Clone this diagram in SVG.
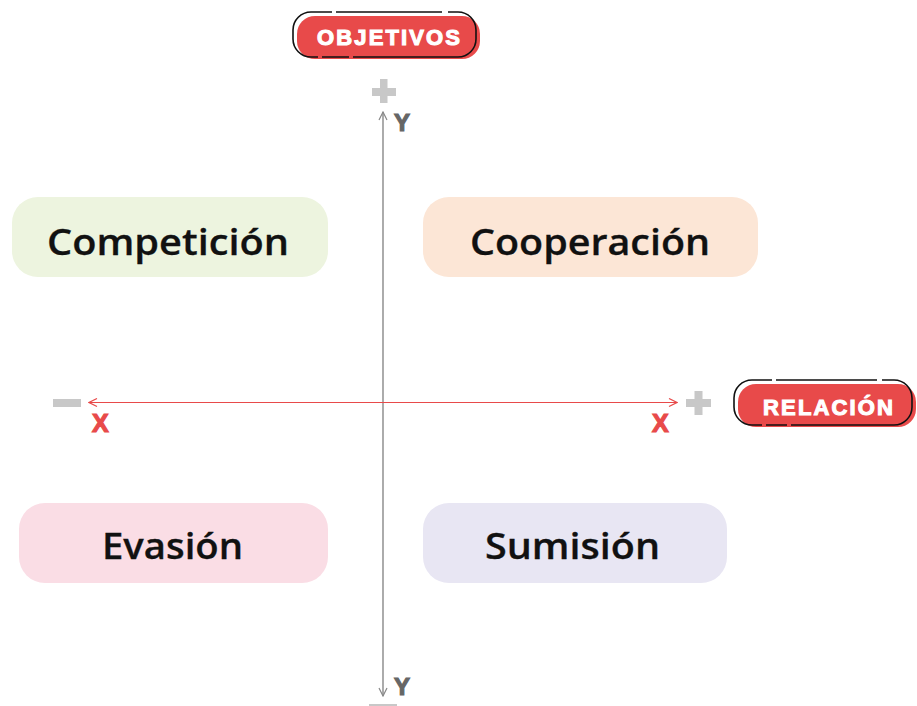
<svg xmlns="http://www.w3.org/2000/svg" width="917" height="706" viewBox="0 0 917 706">
  <defs>
    <marker id="arrGray" viewBox="0 0 10 10" refX="9" refY="5" markerWidth="10" markerHeight="10" markerUnits="userSpaceOnUse" orient="auto-start-reverse">
      <path d="M1,1 L9,5 L1,9" fill="none" stroke="#888888" stroke-width="1.2"/>
    </marker>
    <marker id="arrRed" viewBox="0 0 10 10" refX="9" refY="5" markerWidth="10" markerHeight="10" markerUnits="userSpaceOnUse" orient="auto-start-reverse">
      <path d="M1,1 L9,5 L1,9" fill="none" stroke="#e84a4a" stroke-width="1.2"/>
    </marker>
  </defs>
  <style>
    .node-text { font-family: "Open Sans", "Liberation Sans", sans-serif; font-weight: 600; font-size: 36px; fill: #111111; stroke: #111111; stroke-width: 0.3; text-anchor: middle; }
    .badge-fill { fill: #e84a4a; }
    .badge-line { fill: none; stroke: #111111; stroke-width: 1.6; }
    .badge-text { font-family: "Liberation Sans", Arial, sans-serif; font-weight: bold; font-size: 22px; fill: #ffffff; stroke: #ffffff; stroke-width: 1.1; text-anchor: middle; }
    .sign { fill: #c8c8c8; }
    .ylab { font-family: "Liberation Sans", Arial, sans-serif; font-weight: bold; font-size: 24px; fill: #666666; stroke: #666666; stroke-width: 1.2; }
    .xlab { font-family: "Liberation Sans", Arial, sans-serif; font-weight: bold; font-size: 25px; fill: #e84a4a; stroke: #e84a4a; stroke-width: 1.2; }
  </style>
  <rect x="0" y="0" width="917" height="706" fill="#ffffff"/>

  <g id="connectors">
    <line x1="383" y1="696" x2="383" y2="112" stroke="#888888" stroke-width="1.4" marker-start="url(#arrGray)" marker-end="url(#arrGray)"/>
    <line x1="89" y1="402.5" x2="677" y2="402.5" stroke="#e84a4a" stroke-width="1.2" marker-start="url(#arrRed)" marker-end="url(#arrRed)"/>
  </g>

  <g id="axis-marks">
    <rect class="sign" x="372" y="88" width="24" height="8"/>
    <rect class="sign" x="380" y="79" width="7.5" height="24"/>
    <text class="ylab" x="394" y="131">Y</text>
    <text class="ylab" x="394" y="695">Y</text>
    <rect class="sign" x="369" y="704" width="28" height="2"/>
    <rect class="sign" x="53" y="399" width="28" height="8"/>
    <text class="xlab" x="92" y="432">X</text>
    <text class="xlab" x="652" y="432">X</text>
    <rect class="sign" x="686" y="399" width="25" height="8"/>
    <rect class="sign" x="694.5" y="391" width="8" height="24"/>
  </g>

  <g id="badge-objetivos">
    <rect class="badge-fill" x="297" y="16" width="183" height="43" rx="18"/>
    <path class="badge-line" d="M311,12 H332 M336,12 H442 M448,12 H458 A18,18 0 0 1 476,30 V39 A18,18 0 0 1 458,57 H353 M349,57 H322 M318,57 H311 A18,18 0 0 1 293,39 V30 A18,18 0 0 1 311,12"/>
    <text class="badge-text" x="388.5" y="45" textLength="143">OBJETIVOS</text>
  </g>

  <g id="badge-relacion">
    <rect class="badge-fill" x="738" y="384" width="178" height="43" rx="18"/>
    <path class="badge-line" d="M752,380 H772 M776,380 H877 M882,380 H894 A18,18 0 0 1 912,398 V407 A18,18 0 0 1 894,425 H791 M787,425 H766 M762,425 H752 A18,18 0 0 1 734,407 V398 A18,18 0 0 1 752,380"/>
    <text class="badge-text" x="828" y="415" textLength="130">RELACIÓN</text>
  </g>

  <g id="node-competicion">
    <rect x="12" y="197" width="316" height="80" rx="26" fill="#edf4df"/>
    <text class="node-text" x="168" y="255" textLength="242" lengthAdjust="spacingAndGlyphs">Competición</text>
  </g>

  <g id="node-cooperacion">
    <rect x="423" y="197" width="335" height="80" rx="26" fill="#fce6d6"/>
    <text class="node-text" x="590" y="255" textLength="240" lengthAdjust="spacingAndGlyphs">Cooperación</text>
  </g>

  <g id="node-evasion">
    <rect x="19" y="503" width="309" height="80" rx="26" fill="#fadde5"/>
    <text class="node-text" x="172.5" y="559" textLength="141" lengthAdjust="spacingAndGlyphs">Evasión</text>
  </g>

  <g id="node-sumision">
    <rect x="423" y="503" width="304" height="80" rx="26" fill="#e8e6f3"/>
    <text class="node-text" x="572.5" y="559" textLength="175" lengthAdjust="spacingAndGlyphs">Sumisión</text>
  </g>
</svg>
